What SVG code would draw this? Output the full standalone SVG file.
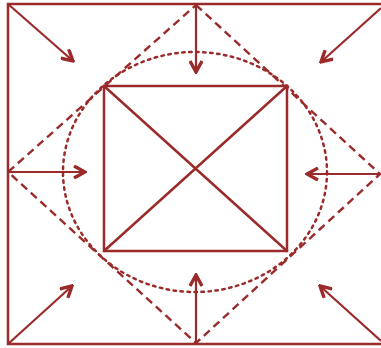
<svg xmlns="http://www.w3.org/2000/svg" width="381" height="348" viewBox="0 0 381 348">
<defs>
<style>
.s{stroke:#9b2b2b;stroke-width:2.5;fill:none;stroke-linecap:round}
.d{stroke:#9b2b2b;stroke-width:2.4;fill:none;stroke-dasharray:8 5}
.o{stroke:#9b2b2b;stroke-width:2.5;fill:none;stroke-dasharray:2.5 4.5;stroke-linecap:round}
.a{stroke:#9b2b2b;stroke-width:2.2;fill:none;marker-end:url(#ah)}
</style>
<marker id="ah" viewBox="0 0 14 14" refX="12" refY="7" markerWidth="14" markerHeight="14" markerUnits="userSpaceOnUse" orient="auto">
<path d="M1,1 L12,7 L1,13" fill="none" stroke="#9b2b2b" stroke-width="3.4" stroke-linejoin="miter"/>
</marker>
</defs>
<rect width="381" height="348" fill="#ffffff"/>
<g id="frame">
<path class="s" d="M381,4 L8,4 L8,344 L381,344"/>
</g>
<g id="square">
<rect class="s" x="104" y="86" width="183" height="165"/>
<path class="s" d="M104,86 L287,251 M287,86 L104,251"/>
</g>
<g id="diamond">
<path class="d" d="M196,5 L380,174 L196,343 L8,172 Z"/>
</g>
<g id="ellipse">
<ellipse class="o" cx="195" cy="172" rx="132" ry="120"/>
</g>
<g id="connectors">
<line class="a" x1="196" y1="5" x2="196" y2="72"/>
<line class="a" x1="196" y1="343" x2="196" y2="275"/>
<line class="a" x1="8" y1="172" x2="85" y2="172"/>
<line class="a" x1="380" y1="174" x2="307" y2="174"/>
<line class="a" x1="8" y1="4" x2="73" y2="61"/>
<line class="a" x1="381" y1="8" x2="321" y2="62"/>
<line class="a" x1="8" y1="344" x2="72" y2="286"/>
<line class="a" x1="381" y1="341" x2="320" y2="286"/>
</g>
</svg>
